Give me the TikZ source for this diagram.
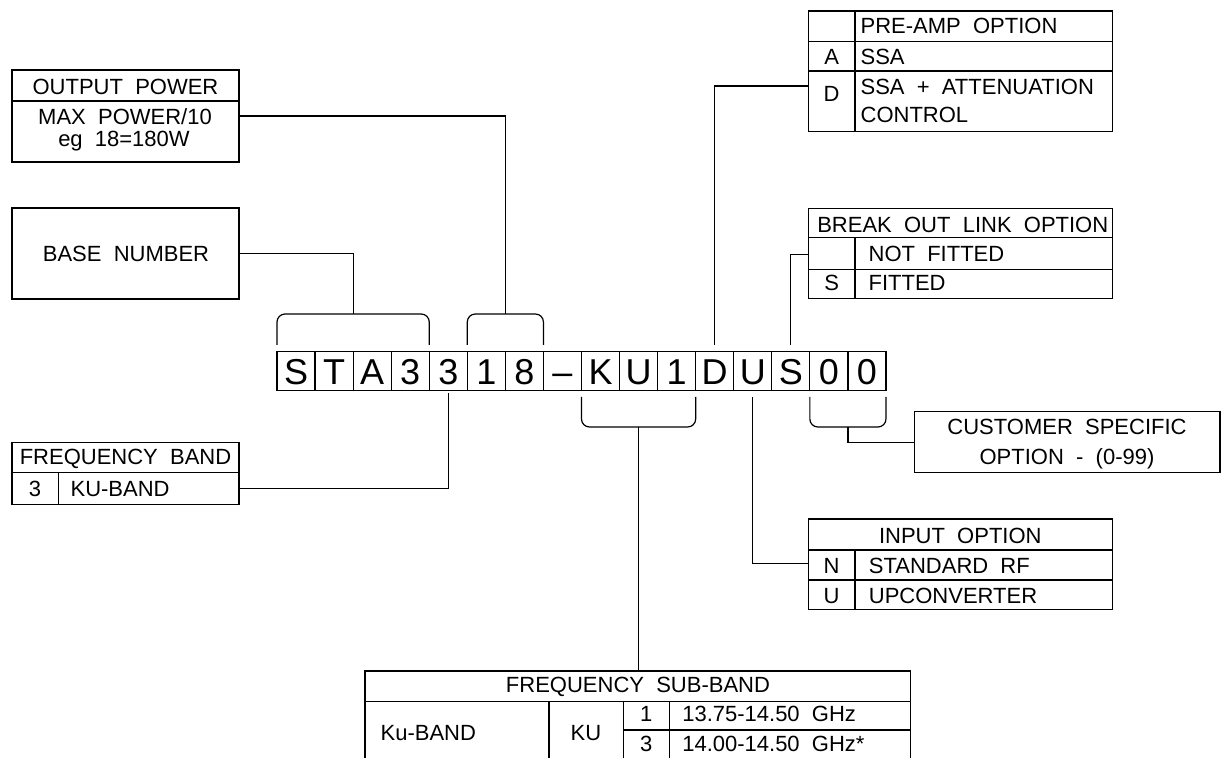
\documentclass[tikz,border=0pt]{standalone}
\usepackage{fontspec}
\setmainfont{Liberation Sans}[WordSpace=2]
\usetikzlibrary{fit,calc}

\begin{document}
\begin{tikzpicture}[
  x=0.5pt, y=-0.5pt,
  line width=0.6pt,
  font=\fontsize{11}{13}\selectfont,
  frame/.style={draw, inner sep=0pt, outer sep=0pt},
  cell/.style={draw, inner sep=0pt, outer sep=0pt, minimum width=19.03pt, minimum height=19.5pt, text height=12.9pt, text depth=0pt, font=\fontsize{18}{20}\selectfont},
  txt/.style={inner sep=0pt, anchor=base},
  ltxt/.style={inner sep=0pt, anchor=base west},
  brk/.style={rounded corners=4pt}
]
\useasboundingbox (0,0) rectangle (1224,758);

% part number
\foreach \ch [count=\i from 0] in {S,T,A,3,3,1,8,–,K,U,1,D,U,S,0,0}
  \node[cell] (c\i) at ({277+38.06*(\i+0.5)},371.2) {\ch};

% left boxes
\node[frame, fit={(12,70) (239,162)}] (outpw) {};
\draw (outpw.west |- 0,101) -- (outpw.east |- 0,101);
\node[txt] (outpwh) at (125.5,95) {OUTPUT POWER};
\node[txt] (outpw1) at (125,124.5) {MAX POWER/10};
\node[txt] (outpw2) at (124,146.5) {eg 18=180W};

\node[frame, fit={(12,208) (239,299)}] (base) {};
\node[txt] (baset) at (126,261.7) {BASE NUMBER};

\node[frame, fit={(12,442.3) (239,504.3)}] (fband) {};
\draw (fband.west |- 0,472.3) -- (fband.east |- 0,472.3);
\draw (58.3,472.3) -- (58.3,504.3);
\node[txt] (fbandh) at (125.5,465) {FREQUENCY BAND};
\node[txt] (fbandk) at (35,496.7) {3};
\node[ltxt] (fbandv) at (70,496.7) {KU-BAND};

% right tables
\node[frame, fit={(808.3,11) (1112.7,131.7)}] (preamp) {};
\draw (preamp.west |- 0,41.7) -- (preamp.east |- 0,41.7);
\draw (preamp.west |- 0,71) -- (preamp.east |- 0,71);
\draw (855,11) -- (855,131.7);
\node[ltxt] (preamph) at (860,34) {PRE-AMP OPTION};
\node[txt] (preampk1) at (831.6,64.5) {A};
\node[ltxt] (preampv1) at (860,64.5) {SSA};
\node[txt] (preampk2) at (831.6,102) {D};
\node[ltxt] (preampv2) at (860,95) {SSA + ATTENUATION};
\node[ltxt] (preampv3) at (860,123) {CONTROL};

\node[frame, fit={(808.3,208.3) (1112.7,298.3)}] (brkout) {};
\draw (brkout.west |- 0,237.7) -- (brkout.east |- 0,237.7);
\draw (brkout.west |- 0,269.3) -- (brkout.east |- 0,269.3);
\draw (855,237.7) -- (855,298.3);
\node[ltxt] (brkouth) at (816.7,233) {BREAK OUT LINK OPTION};
\node[ltxt] (brkoutv1) at (868,261.7) {NOT FITTED};
\node[txt] (brkoutk2) at (831.6,290.7) {S};
\node[ltxt] (brkoutv2) at (868,290.7) {FITTED};

\node[frame, fit={(914.3,411.7) (1220,472.7)}] (cust) {};
\node[txt] (cust1) at (1067,435) {CUSTOMER SPECIFIC};
\node[txt] (cust2) at (1067,465) {OPTION - (0-99)};

\node[frame, fit={(808.3,519) (1112.3,609.3)}] (inopt) {};
\draw (inopt.west |- 0,550) -- (inopt.east |- 0,550);
\draw (inopt.west |- 0,580) -- (inopt.east |- 0,580);
\draw (855,550) -- (855,609.3);
\node[txt] (inopth) at (960.3,543.3) {INPUT OPTION};
\node[txt] (inoptk1) at (831.6,573.3) {N};
\node[ltxt] (inoptv1) at (868.3,573.3) {STANDARD RF};
\node[txt] (inoptk2) at (831.6,603.3) {U};
\node[ltxt] (inoptv2) at (868.3,603.3) {UPCONVERTER};

% bottom table, cut by the page edge
\node[frame, fit={(365,671) (910.7,764)}] (subband) {};
\draw (subband.west |- 0,701.7) -- (subband.east |- 0,701.7);
\draw (549,701.7) -- (549,764);
\draw (623.3,701.7) -- (623.3,764);
\draw (669.3,701.7) -- (669.3,764);
\draw (623.3,730) -- (subband.east |- 0,730);
\node[txt] (subbandh) at (638,692.7) {FREQUENCY SUB-BAND};
\node[ltxt] (subband1) at (380,740) {Ku-BAND};
\node[txt] (subband2) at (586,740) {KU};
\node[txt] (subbandk1) at (646.3,721.7) {1};
\node[ltxt] (subbandv1) at (681.7,721.7) {13.75-14.50 GHz};
\node[txt] (subbandk2) at (646.3,751.7) {3};
\node[ltxt] (subbandv2) at (681.7,751.7) {14.00-14.50 GHz*};

% brackets and leaders
\coordinate (k1) at ($(c0.north west)!.5!(c3.north east)$);
\coordinate (k2) at ($(c5.north west)!.5!(c6.north east)$);
\coordinate (k3) at ($(c8.south west)!.5!(c10.south east)$);
\coordinate (k4) at ($(c14.south west)!.5!(c15.south east)$);

\draw[brk] (c0.north west |- 0,345) |- (k1 |- 0,314) -| (c3.north east |- 0,345);
\draw[brk] (c5.north west |- 0,345) |- (k2 |- 0,314) -| (c6.north east |- 0,345);
\draw[brk] (c8.south west |- 0,397) |- (k3 |- 0,427) -| (c10.south east |- 0,397);
\draw[brk] (c14.south west |- 0,397) |- (k4 |- 0,427) -| (c15.south east |- 0,397);

\draw (base.east) -| (k1 |- 0,314);
\draw (outpw.east) -| (k2 |- 0,314);
\draw (c4.south |- 0,393) |- (fband.east |- 0,488.3);
\draw (k3 |- 0,427) -- (k3 |- subband.north);
\draw (k4 |- 0,427) |- (cust.west);
\draw (c11.north |- 0,345) |- (preamp.west |- 0,86);
\draw (c13.north |- 0,345) |- (brkout.west |- 0,254.3);
\draw (c12.south |- 0,397) |- (inopt.west |- 0,563.3);
\end{tikzpicture}
\end{document}
